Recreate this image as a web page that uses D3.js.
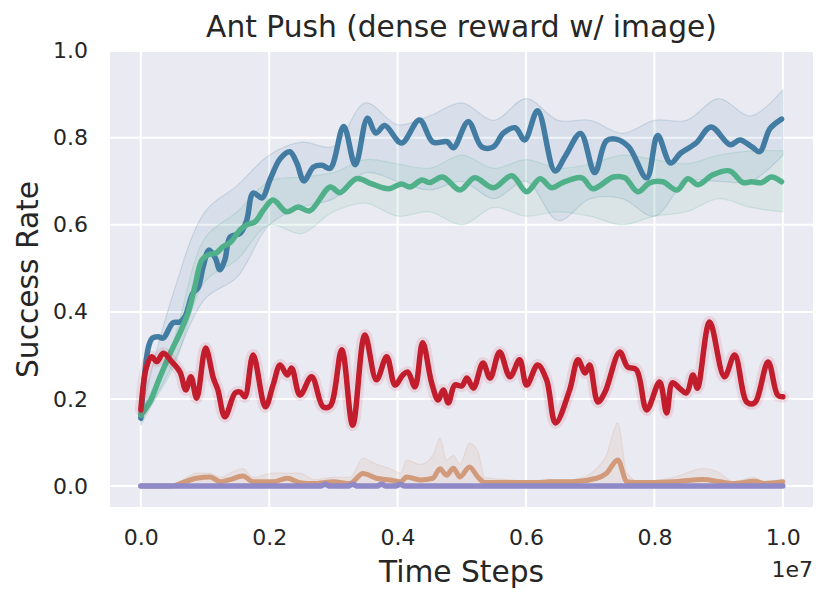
<!DOCTYPE html>
<meta charset="utf-8">
<script src="https://d3js.org/d3.v7.min.js"></script>
<style>
  body { margin: 0; background: #fff; }
  text { font-family: "DejaVu Sans", sans-serif; fill: #262626; }
</style>
<div id="chart"></div>
<script>
// ---- data (time steps in units of 1e7) ----
var blueX = [0, 0.012, 0.018, 0.027, 0.035, 0.05, 0.061, 0.069, 0.081, 0.089, 0.097, 0.106, 0.116, 0.123, 0.131, 0.139, 0.155, 0.165, 0.175, 0.189, 0.201, 0.217, 0.232, 0.243, 0.254, 0.269, 0.282, 0.295, 0.316, 0.334, 0.353, 0.366, 0.380, 0.406, 0.434, 0.455, 0.477, 0.487, 0.510, 0.531, 0.549, 0.565, 0.583, 0.598, 0.618, 0.645, 0.662, 0.685, 0.707, 0.725, 0.740, 0.760, 0.788, 0.805, 0.825, 0.841, 0.865, 0.888, 0.918, 0.933, 0.952, 0.964, 0.980, 0.998];
var blueY = [0.156, 0.32, 0.34, 0.343, 0.34, 0.375, 0.377, 0.39, 0.443, 0.455, 0.503, 0.542, 0.524, 0.497, 0.52, 0.572, 0.581, 0.611, 0.673, 0.662, 0.703, 0.752, 0.768, 0.742, 0.701, 0.733, 0.737, 0.730, 0.826, 0.738, 0.845, 0.811, 0.828, 0.788, 0.841, 0.790, 0.791, 0.777, 0.837, 0.779, 0.779, 0.811, 0.823, 0.795, 0.862, 0.724, 0.760, 0.810, 0.720, 0.793, 0.797, 0.779, 0.708, 0.805, 0.742, 0.765, 0.788, 0.825, 0.784, 0.795, 0.779, 0.768, 0.821, 0.843];

var greenX = [0, 0.014, 0.030, 0.046, 0.061, 0.074, 0.084, 0.095, 0.105, 0.118, 0.128, 0.139, 0.155, 0.165, 0.178, 0.191, 0.206, 0.227, 0.245, 0.263, 0.295, 0.310, 0.336, 0.360, 0.386, 0.406, 0.419, 0.438, 0.450, 0.470, 0.497, 0.520, 0.549, 0.578, 0.601, 0.622, 0.640, 0.657, 0.687, 0.704, 0.736, 0.754, 0.774, 0.793, 0.813, 0.835, 0.852, 0.868, 0.891, 0.917, 0.938, 0.951, 0.967, 0.982, 0.998];
var greenY = [0.163, 0.193, 0.251, 0.306, 0.352, 0.400, 0.457, 0.519, 0.531, 0.536, 0.550, 0.559, 0.589, 0.600, 0.607, 0.634, 0.657, 0.630, 0.641, 0.632, 0.687, 0.674, 0.706, 0.694, 0.683, 0.694, 0.687, 0.703, 0.697, 0.710, 0.680, 0.708, 0.685, 0.713, 0.676, 0.706, 0.685, 0.697, 0.708, 0.683, 0.710, 0.708, 0.676, 0.697, 0.699, 0.680, 0.706, 0.692, 0.715, 0.724, 0.697, 0.699, 0.697, 0.710, 0.699];

var redX = [0, 0.009, 0.017, 0.025, 0.035, 0.048, 0.061, 0.070, 0.078, 0.087, 0.101, 0.113, 0.120, 0.131, 0.147, 0.155, 0.162, 0.175, 0.194, 0.206, 0.217, 0.228, 0.235, 0.248, 0.266, 0.284, 0.295, 0.313, 0.330, 0.349, 0.367, 0.383, 0.396, 0.408, 0.416, 0.427, 0.439, 0.453, 0.463, 0.471, 0.479, 0.489, 0.500, 0.508, 0.518, 0.533, 0.544, 0.559, 0.575, 0.590, 0.601, 0.618, 0.632, 0.646, 0.668, 0.681, 0.692, 0.699, 0.712, 0.723, 0.746, 0.758, 0.772, 0.788, 0.808, 0.819, 0.828, 0.839, 0.850, 0.860, 0.867, 0.886, 0.909, 0.925, 0.944, 0.956, 0.977, 0.992, 1.0];
var redY = [0.175, 0.274, 0.297, 0.286, 0.305, 0.286, 0.262, 0.221, 0.251, 0.202, 0.317, 0.248, 0.221, 0.159, 0.214, 0.216, 0.205, 0.301, 0.182, 0.232, 0.278, 0.255, 0.271, 0.209, 0.251, 0.182, 0.184, 0.313, 0.140, 0.347, 0.244, 0.297, 0.232, 0.255, 0.262, 0.228, 0.329, 0.237, 0.198, 0.221, 0.191, 0.232, 0.230, 0.248, 0.225, 0.283, 0.248, 0.308, 0.251, 0.290, 0.232, 0.278, 0.244, 0.145, 0.221, 0.290, 0.260, 0.278, 0.193, 0.216, 0.308, 0.274, 0.267, 0.175, 0.239, 0.168, 0.237, 0.225, 0.214, 0.255, 0.225, 0.377, 0.251, 0.301, 0.193, 0.191, 0.285, 0.209, 0.205];

var orangeX = [0, 0.05, 0.061, 0.087, 0.108, 0.124, 0.139, 0.159, 0.175, 0.206, 0.228, 0.248, 0.269, 0.300, 0.326, 0.346, 0.367, 0.388, 0.405, 0.414, 0.435, 0.455, 0.466, 0.476, 0.487, 0.497, 0.512, 0.525, 0.536, 0.570, 0.616, 0.637, 0.673, 0.710, 0.725, 0.743, 0.757, 0.777, 0.829, 0.876, 0.902, 0.922, 0.956, 0.971, 1.0];
var orangeY = [0, 0, 0.006, 0.018, 0.021, 0.010, 0.015, 0.023, 0.010, 0.010, 0.018, 0.008, 0.006, 0.010, 0.006, 0.029, 0.018, 0.014, 0.010, 0.021, 0.014, 0.018, 0.040, 0.025, 0.041, 0.021, 0.044, 0.021, 0.008, 0.008, 0.008, 0.010, 0.010, 0.018, 0.029, 0.060, 0.010, 0.008, 0.010, 0.015, 0.010, 0.006, 0.011, 0.006, 0.010];
var orangeHi = [0, 0.003, 0.010, 0.030, 0.030, 0.020, 0.030, 0.040, 0.020, 0.030, 0.030, 0.030, 0.015, 0.020, 0.020, 0.064, 0.050, 0.040, 0.030, 0.060, 0.050, 0.070, 0.110, 0.060, 0.070, 0.050, 0.099, 0.080, 0.020, 0.015, 0.010, 0.015, 0.015, 0.040, 0.070, 0.145, 0.030, 0.010, 0.020, 0.040, 0.030, 0.010, 0.020, 0.010, 0.015];

var purpleX = [0, 0.28, 0.287, 0.295, 0.322, 0.330, 0.338, 0.367, 0.375, 0.383, 0.397, 0.404, 0.411, 1.0];
var purpleY = [0, 0, 0.004, 0, 0, 0.004, 0, 0, 0.004, 0, 0, 0.004, 0, 0];

// std bands of blue and green on a coarse grid
var bandX = [0, 0.05, 0.10, 0.15, 0.20, 0.25, 0.30, 0.35, 0.40, 0.45, 0.50, 0.55, 0.60, 0.65, 0.70, 0.75, 0.80, 0.85, 0.90, 0.95, 1.0];
var blueHi = [0.17, 0.44, 0.63, 0.69, 0.76, 0.79, 0.78, 0.88, 0.83, 0.85, 0.88, 0.84, 0.89, 0.84, 0.84, 0.81, 0.84, 0.84, 0.89, 0.85, 0.91];
var blueLo = [0.14, 0.28, 0.43, 0.48, 0.60, 0.64, 0.66, 0.72, 0.70, 0.68, 0.70, 0.66, 0.70, 0.61, 0.66, 0.66, 0.62, 0.70, 0.70, 0.70, 0.76];
var greenHi = [0.17, 0.33, 0.57, 0.63, 0.70, 0.71, 0.72, 0.75, 0.74, 0.73, 0.76, 0.73, 0.75, 0.73, 0.74, 0.76, 0.75, 0.74, 0.76, 0.77, 0.77];
var greenLo = [0.15, 0.27, 0.47, 0.52, 0.60, 0.58, 0.63, 0.65, 0.62, 0.63, 0.60, 0.64, 0.62, 0.63, 0.62, 0.60, 0.62, 0.63, 0.66, 0.64, 0.63];

var xTicks = [0, 0.2, 0.4, 0.6, 0.8, 1.0];
var yTicks = [0, 0.2, 0.4, 0.6, 0.8, 1.0];

var colors = {blue: "#437ca2", green: "#4fb08a", red: "#c21d2d", orange: "#d19a7b", purple: "#9089c8"};

// ---- layout ----
var W = 830, H = 603;
var pLeft = 110, pRight = 813, pTop = 52, pBottom = 507;

var svg = d3.select("#chart")
  .append("svg")
    .attr("width", W)
    .attr("height", H);

var x = d3.scaleLinear().domain([-0.048, 1.047]).range([pLeft, pRight]);
var y = d3.scaleLinear().domain([-0.048, 0.997]).range([pBottom, pTop]);

svg.append("rect")
  .attr("x", pLeft).attr("y", pTop)
  .attr("width", pRight - pLeft).attr("height", pBottom - pTop)
  .style("fill", "#eaeaf2");

// grid
svg.append("g")
  .selectAll("line")
  .data(xTicks)
  .enter().append("line")
    .attr("x1", function(d) {return x(d);})
    .attr("x2", function(d) {return x(d);})
    .attr("y1", pTop).attr("y2", pBottom)
    .style("stroke", "#fff").style("stroke-width", 2);
svg.append("g")
  .selectAll("line")
  .data(yTicks.filter(function(d) {return y(d) >= pTop;}))
  .enter().append("line")
    .attr("y1", function(d) {return y(d);})
    .attr("y2", function(d) {return y(d);})
    .attr("x1", pLeft).attr("x2", pRight)
    .style("stroke", "#fff").style("stroke-width", 2);

var plot = svg.append("g");
var curve = d3.curveCatmullRom.alpha(0.5);
var flatCurve = d3.curveMonotoneX;

function zip(xs, ys) {
  return xs.map(function(v, i) {return [v, ys[i]];});
}

function band(xs, lo, hi, color, op, c) {
  var pts = xs.map(function(v, i) {return {x: v, lo: lo[i], hi: hi[i]};});
  plot.append("path")
    .datum(pts)
    .attr("d", d3.area().curve(c || curve)
      .x(function(d) {return x(d.x);})
      .y0(function(d) {return y(d.lo);})
      .y1(function(d) {return y(d.hi);}))
    .style("fill", color).style("fill-opacity", op)
    .style("stroke", color).style("stroke-opacity", 0.18).style("stroke-width", 1.2);
}

function line(xs, ys, color, w, c, op) {
  plot.append("path")
    .datum(zip(xs, ys))
    .attr("d", d3.line().curve(c || curve)
      .x(function(d) {return x(d[0]);})
      .y(function(d) {return y(d[1]);}))
    .style("fill", "none")
    .style("stroke", color)
    .style("stroke-opacity", op || 1)
    .style("stroke-width", w)
    .style("stroke-linejoin", "round")
    .style("stroke-linecap", "round");
}

band(bandX, blueLo, blueHi, colors.blue, 0.1);
band(bandX, greenLo, greenHi, colors.green, 0.1);
line(blueX, blueY, colors.blue, 5.5);
line(greenX, greenY, colors.green, 5.5);

// red: tight band drawn as a soft halo
line(redX, redY, colors.red, 12, curve, 0.1);
line(redX, redY, colors.red, 5.5);

band(orangeX, orangeY.map(function() {return 0;}), orangeHi, colors.orange, 0.12, flatCurve);
line(orangeX, orangeY, colors.orange, 5, flatCurve);
line(purpleX, purpleY, colors.purple, 5.5, flatCurve);

// axes
var xAxis = svg.append("g")
  .attr("transform", "translate(0," + pBottom + ")")
  .call(d3.axisBottom(x).tickValues(xTicks).tickFormat(d3.format(".1f")).tickSize(0).tickPadding(22));
var yAxis = svg.append("g")
  .attr("transform", "translate(" + pLeft + ",0)")
  .call(d3.axisLeft(y).tickValues(yTicks).tickFormat(d3.format(".1f")).tickSize(0).tickPadding(22));
[xAxis, yAxis].forEach(function(a) {
  a.select(".domain").remove();
  a.selectAll("text")
    .style("font-size", "22px")
    .style("font-family", "DejaVu Sans")
    .style("fill", "#262626");
});

svg.append("text")
  .attr("x", (pLeft + pRight) / 2).attr("y", 37)
  .attr("text-anchor", "middle")
  .style("font-size", "29.7px")
  .text("Ant Push (dense reward w/ image)");

svg.append("text")
  .attr("x", (pLeft + pRight) / 2).attr("y", 582)
  .attr("text-anchor", "middle")
  .style("font-size", "29.7px")
  .text("Time Steps");

svg.append("text")
  .attr("x", pRight).attr("y", 577)
  .attr("text-anchor", "end")
  .style("font-size", "22px")
  .text("1e7");

svg.append("text")
  .attr("transform", "translate(38," + (pTop + pBottom) / 2 + ") rotate(-90)")
  .attr("text-anchor", "middle")
  .style("font-size", "29.7px")
  .text("Success Rate");
</script>
